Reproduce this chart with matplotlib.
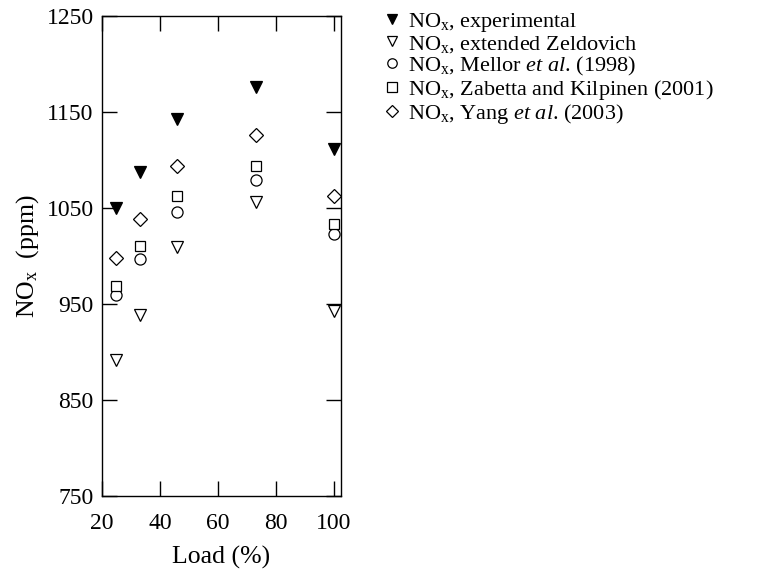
import numpy as np
import matplotlib
matplotlib.use('Agg')
import matplotlib.pyplot as plt
import matplotlib.ticker as ticker

plt.rcParams['font.family'] = 'Liberation Serif'
plt.rcParams['mathtext.fontset'] = 'custom'
plt.rcParams['mathtext.rm'] = 'Liberation Serif'
plt.rcParams['mathtext.it'] = 'Liberation Serif:italic'

# Данные
load = [25, 33, 46, 73, 100]
nox_exp = [1050, 1088, 1143, 1176, 1111]
nox_zeld = [892, 939, 1009, 1056, 943]
nox_mellor = [959, 997, 1046, 1079, 1023]
nox_zabetta = [969, 1010, 1062, 1094, 1033]
nox_yang = [998, 1039, 1094, 1126, 1062]
y_ticks = [750, 850, 950, 1050, 1150, 1250]

labels = [
    r'NO$_\mathrm{x}$, experimental',
    r'NO$_\mathrm{x}$, extended Zeldovich',
    r'NO$_\mathrm{x}$, Mellor $\mathit{et\ al}$. (1998)',
    r'NO$_\mathrm{x}$, Zabetta and Kilpinen (2001)',
    r'NO$_\mathrm{x}$, Yang $\mathit{et\ al}$. (2003)',
]

fig = plt.figure(figsize=(7.69, 5.8), dpi=100)
ax = fig.add_axes([0.1326, 0.1448, 0.3108, 0.8276])

series = [nox_exp, nox_zeld, nox_mellor, nox_zabetta, nox_yang]
markers = ['v', 'v', 'o', 's', 'D']
sizes = [8.6, 8.6, 8, 7.7, 7.6]
filled = [True, False, False, False, False]
for vals, m, s, lab, f in zip(series, markers, sizes, labels, filled):
    ax.plot(load, vals, linestyle='none', marker=m, markersize=s,
            markerfacecolor='black' if f else 'white',
            markeredgecolor='black', markeredgewidth=0.9, label=lab)

ax.set_xlim(20, 102.5)
ax.set_ylim(750, 1250)
ax.xaxis.set_major_locator(ticker.MultipleLocator(20))
ax.set_yticks(y_ticks)
ax.tick_params(direction='in', length=11, width=1, top=True, right=True,
               labelsize=17)
ax.tick_params(axis='x', pad=12)
ax.tick_params(axis='y', pad=6)
for sp in ax.spines.values():
    sp.set_linewidth(1)

ax.set_xlabel('Load (%)', fontsize=18.5, labelpad=9)
ax.set_ylabel(r'NO$_\mathrm{x}$  (ppm)', fontsize=18.5, labelpad=4)

fig.legend(loc='upper left', bbox_to_anchor=(0.49, 0.997), frameon=False,
           fontsize=16, markerscale=0.85, handlelength=0.6, handletextpad=0.4,
           labelspacing=0.0, borderaxespad=0)

fig.savefig('out.png', dpi=100)
